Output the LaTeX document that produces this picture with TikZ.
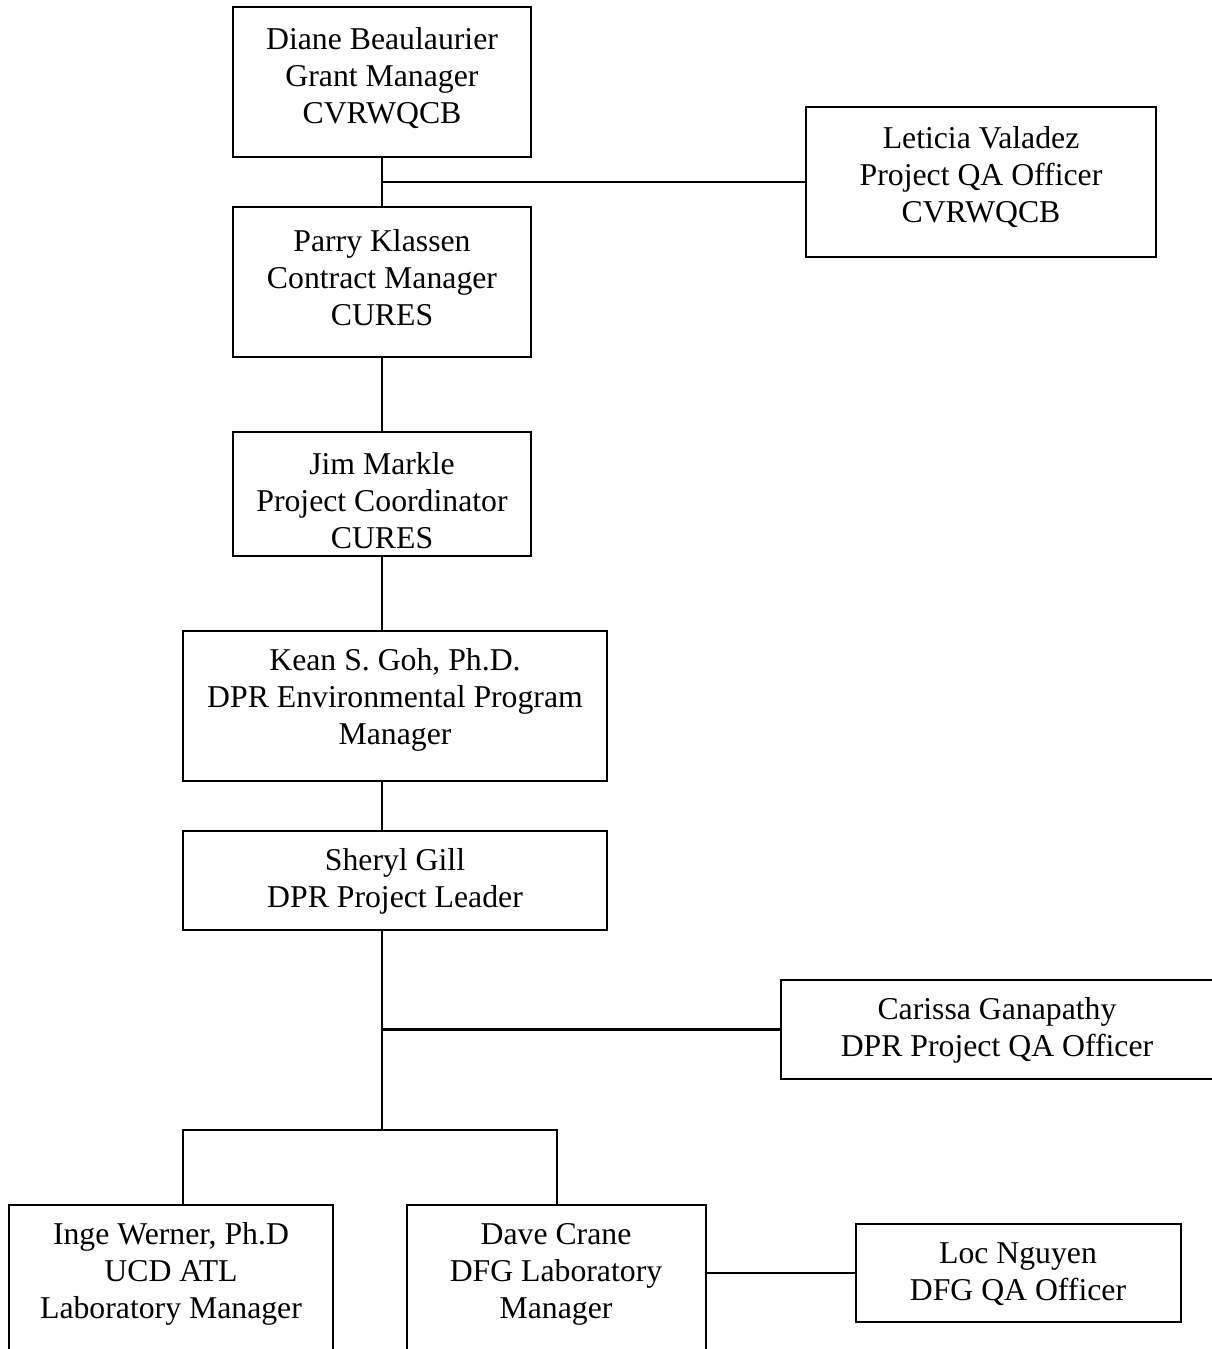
\documentclass[tikz,border=0pt]{standalone}
\usepackage{fontspec}
\setmainfont{Liberation Serif}

% one pixel of the chart
\newcommand{\px}{0.378pt}

\tikzset{
  box/.style={draw, line width=0.8pt, inner sep=0pt},
  txt/.style={align=center, inner sep=0pt, font=\fontsize{12}{14}\selectfont},
  link/.style={line width=0.8pt}
}

\begin{document}
\begin{tikzpicture}[x=\px, y=-\px]

\useasboundingbox (0,0) rectangle (1211,1349);

%%% BOXES %%%
\node[box, minimum width=298*\px, minimum height=150*\px] (diane) at (382,82) {};
\node[box, minimum width=350*\px, minimum height=150*\px] (leticia) at (981,182) {};
\node[box, minimum width=298*\px, minimum height=150*\px] (parry) at (382,282) {};
\node[box, minimum width=298*\px, minimum height=124*\px] (jim) at (382,494) {};
\node[box, minimum width=424*\px, minimum height=150*\px] (kean) at (395,706) {};
\node[box, minimum width=424*\px, minimum height=99*\px] (sheryl) at (395,880.5) {};
\node[box, minimum width=432*\px, minimum height=99*\px] (carissa) at (997,1029.5) {};
\node[box, minimum width=324*\px, minimum height=185*\px] (inge) at (171,1297.5) {};
\node[box, minimum width=299*\px, minimum height=185*\px] (dave) at (556.5,1297.5) {};
\node[box, minimum width=325*\px, minimum height=98*\px] (loc) at (1018.5,1273) {};

%%% TEXTS %%%
\node[txt] (dianeT) at (382,78) {Diane Beaulaurier\\Grant Manager\\CVRWQCB};
\node[txt] (leticiaT) at (981,177) {Leticia Valadez\\Project QA Officer\\CVRWQCB};
\node[txt] (parryT) at (382,278) {Parry Klassen\\Contract Manager\\CURES};
\node[txt] (jimT) at (382,501) {Jim Markle\\Project Coordinator\\CURES};
\node[txt] (keanT) at (395,700) {Kean S. Goh, Ph.D.\\DPR Environmental Program\\Manager};
\node[txt] (sherylT) at (395,881) {Sheryl Gill\\DPR Project Leader};
\node[txt] (carissaT) at (997,1030) {Carissa Ganapathy\\DPR Project QA Officer};
\node[txt] (ingeT) at (171,1274) {Inge Werner, Ph.D\\UCD ATL\\Laboratory Manager};
\node[txt] (daveT) at (556,1274) {Dave Crane\\DFG Laboratory\\Manager};
\node[txt] (locT) at (1018,1274) {Loc Nguyen\\DFG QA Officer};

%%% CONNECTORS %%%
\coordinate (split) at (382,1130);
\coordinate (lab1) at (183,1130);
\coordinate (lab2) at (557,1130);

\draw[link] (diane) -- (parry);
\draw[link] (diane.south |- leticia.west) -- (leticia.west);
\draw[link] (parry) -- (jim);
\draw[link] (jim.south) -- (jim.south |- kean.north);
\draw[link] (jim.south |- kean.south) -- (jim.south |- sheryl.north);
\draw[link] (jim.south |- sheryl.south) -- (split);
\draw[link] (split |- carissa.west) -- (carissa.west);
\draw[link] (lab1 |- inge.north) -- (lab1) -- (lab2) -- (lab2 |- dave.north);
\draw[link] (dave.east |- loc.west) -- (loc.west);

\end{tikzpicture}
\end{document}
